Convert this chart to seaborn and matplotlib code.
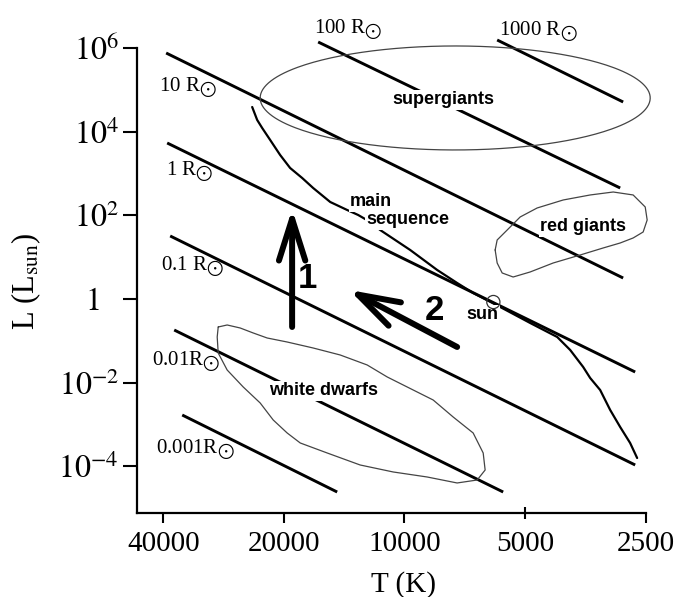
import numpy as np
import pandas as pd
import matplotlib
matplotlib.use("Agg")
import matplotlib.pyplot as plt
import seaborn as sns

# ---------------- data ----------------
# lines of constant radius: end points (T in K, log10 L in L_sun)
radius_names = ["1000 R", "100 R", "10 R", "1 R", "0.1 R", "0.01R", "0.001R"]
radius_T0 = [5870, 16420, 39330, 39100, 38430, 37550, 35860]
radius_T1 = [2846, 2895, 2846, 2656, 2656, 5671, 14720]
radius_logL0 = [6.194, 6.146, 5.883, 3.732, 1.509, -0.739, -2.771]
radius_logL1 = [4.712, 2.656, 0.504, -1.743, -3.966, -4.612, -4.612]
radius_label_T = [4638, 13820, 34650, 34250, 33870, 35050, 33290]
radius_label_logL = [6.385, 6.433, 5.047, 3.039, 0.767, -1.504, -3.607]

# main sequence curve
ms_T = [23990, 23310, 22650, 21630, 20430, 19290, 18000, 16900, 15320, 13900,
        13050, 12170, 11500, 9676, 8287, 7388, 6738, 5769, 4857, 4157,
        3858, 3581, 3440, 3248, 3066, 2895, 2734, 2626]
ms_logL = [4.592, 4.282, 4.090, 3.803, 3.445, 3.134, 2.895, 2.656, 2.321, 2.130,
           2.011, 1.843, 1.652, 1.174, 0.696, 0.385, 0.146, -0.189, -0.571, -0.906,
           -1.217, -1.623, -1.886, -2.173, -2.651, -3.058, -3.440, -3.799]

# red giants region outline
rg_T = [5938, 5870, 5541, 5143, 4665, 4017, 3440, 3013, 2687, 2507, 2479,
        2537, 2687, 2895, 3192, 3643, 4254, 4857, 5355, 5703, 5870, 5938]
rg_logL = [1.174, 1.413, 1.652, 1.963, 2.178, 2.369, 2.489, 2.560, 2.489, 2.202, 1.891,
           1.604, 1.461, 1.341, 1.222, 1.054, 0.863, 0.648, 0.528, 0.624, 0.863, 1.174]

# white dwarfs region outline
wd_T = [29160, 27700, 25700, 23850, 22010, 19620, 16900, 14470, 12390, 11040,
        9511, 8480, 7558, 6738, 6361, 6290, 6584, 7388, 8777, 10670,
        12900, 15590, 18200, 19620, 21260, 22910, 25260, 27700, 29160, 29330, 29160]
wd_logL = [-0.667, -0.619, -0.691, -0.810, -0.930, -1.026, -1.169, -1.336, -1.575, -1.862,
           -2.173, -2.412, -2.819, -3.201, -3.679, -4.086, -4.325, -4.396, -4.253, -4.133,
           -3.966, -3.679, -3.440, -3.201, -2.890, -2.484, -2.101, -1.695, -1.289, -0.906, -0.667]

# supergiants ellipse: centre and semi-axes (in log10 T, log10 L)
sg_center_logT, sg_center_logL = 3.8734, 4.808
sg_semi_logT, sg_semi_logL = 0.4867, 1.243

# sun
sun_T, sun_L = 6000, 0.85

# region labels
region_text = ["supergiants", "red giants", "white dwarfs", "sun"]
region_T = [8008, 3581, 15950, 6397]
region_logL = [4.760, 1.724, -2.197, -0.380]
ms_label_text = ["main", "sequence"]
ms_label_T = [13660, 12460]
ms_label_logL = [2.321, 1.891]

# evolution arrows: tail -> tip
arrow_names = ["1", "2"]
arrow_tail_T = [19070, 7388]
arrow_tail_logL = [-0.667, -1.145]
arrow_tip_T = [19070, 13740]
arrow_tip_logL = [2.154, 0.218]
arrow_label_T = [17490, 8431]
arrow_label_logL = [0.504, -0.261]

# ticks
xtick_values = [40000, 20000, 10000, 2500]
xtick_labels = ["40000", "20000", "10000", "2500"]
xtick_minor_values = [5000]
xtick_minor_labels = ["5000"]
ytick_values = [1e6, 1e4, 1e2, 1, 1e-2, 1e-4]
ytick_labels = [r"$10^{6}$", r"$10^{4}$", r"$10^{2}$", r"$1$", r"$10^{-2}$", r"$10^{-4}$"]

# ---------------- plotting ----------------
sns.set_theme(style="white")
plt.rcParams["font.family"] = ["Liberation Serif", "DejaVu Serif"]
plt.rcParams["mathtext.fontset"] = "stix"
for k in ["text.color", "axes.labelcolor", "xtick.color", "ytick.color", "axes.edgecolor"]:
    plt.rcParams[k] = "black"

W, H = 675, 597
fig = plt.figure(figsize=(W / 100, H / 100), dpi=100)
ax = fig.add_axes([137 / W, 1 - 513.3 / H, 508.7 / W, 513.3 / H])
ax.set_xscale("log")
ax.set_yscale("log")

# radius lines
for i in range(len(radius_names)):
    df = pd.DataFrame({"T": [radius_T0[i], radius_T1[i]],
                       "L": [10 ** radius_logL0[i], 10 ** radius_logL1[i]]})
    sns.lineplot(data=df, x="T", y="L", sort=False, estimator=None, color="black",
                 lw=2.1, ax=ax, solid_capstyle="butt")
    ax.text(radius_label_T[i], 10 ** radius_label_logL[i], radius_names[i] + r"$_{\bigodot}$",
            fontsize=15, ha="center", va="center", family=["Liberation Serif"])

# main sequence
sns.lineplot(x=ms_T, y=10 ** np.array(ms_logL), sort=False, estimator=None,
             color="black", lw=1.6, ax=ax)

# regions
sns.lineplot(x=rg_T, y=10 ** np.array(rg_logL), sort=False, estimator=None,
             color="#444444", lw=0.9, ax=ax, clip_on=False)
sns.lineplot(x=wd_T, y=10 ** np.array(wd_logL), sort=False, estimator=None,
             color="#444444", lw=0.9, ax=ax)
t = np.linspace(0, 2 * np.pi, 300)
sg_T = 10 ** (sg_center_logT + sg_semi_logT * np.cos(t))
sg_L = 10 ** (sg_center_logL + sg_semi_logL * np.sin(t))
sns.lineplot(x=sg_T, y=sg_L, sort=False, estimator=None, color="#444444", lw=0.9,
             ax=ax, clip_on=False)

# sun
sns.scatterplot(x=[sun_T], y=[sun_L], s=90, ax=ax, zorder=4)
sc = ax.collections[-1]
sc.set_facecolor("none")
sc.set_edgecolor("#333333")
sc.set_linewidth(0.9)

bold = dict(family=["Liberation Sans"], fontweight="bold")
box = dict(facecolor="white", edgecolor="none", pad=1.0)
for txt, tt, ll in zip(region_text, region_T, region_logL):
    ax.text(tt, 10 ** ll, txt, fontsize=13, ha="center", va="center", bbox=box, **bold)
for txt, tt, ll in zip(ms_label_text, ms_label_T, ms_label_logL):
    ax.text(tt, 10 ** ll, txt, fontsize=13, ha="left", va="center", bbox=box, **bold)

# arrows
for i in range(len(arrow_names)):
    ax.annotate("", xy=(arrow_tip_T[i], 10 ** arrow_tip_logL[i]),
                xytext=(arrow_tail_T[i], 10 ** arrow_tail_logL[i]),
                arrowprops=dict(arrowstyle="->,head_length=3.0,head_width=0.95",
                                mutation_scale=10, lw=4.3, color="black",
                                shrinkA=0, shrinkB=0))
    ax.text(arrow_label_T[i], 10 ** arrow_label_logL[i], arrow_names[i], fontsize=25,
            ha="center", va="center", **bold)

# axes limits, ticks, spines
ax.set_xlim(10 ** (np.log10(2500) + 508.7 / 400.7), 2500)
ax.set_ylim(10 ** -5.121, 10 ** 7.15)
ax.set_xticks(xtick_values)
ax.set_xticklabels(xtick_labels)
ax.set_xticks(xtick_minor_values, minor=True)
ax.set_xticklabels(xtick_minor_labels, minor=True)
ax.set_yticks(ytick_values)
ax.set_yticklabels(ytick_labels)
ax.yaxis.set_minor_locator(matplotlib.ticker.NullLocator())
ax.tick_params(axis="x", which="major", direction="out", length=7.5, width=1.5,
               labelsize=21, pad=5, bottom=True)
ax.tick_params(axis="x", which="minor", direction="inout", length=8, width=1.5,
               labelsize=21, pad=8.5, bottom=True)
ax.tick_params(axis="y", direction="out", length=10, width=1.5, labelsize=23, pad=3, left=True)
ax.yaxis.get_major_ticks()[3].set_pad(17)
for s in ["top", "right"]:
    ax.spines[s].set_visible(False)
for s in ["left", "bottom"]:
    ax.spines[s].set_linewidth(1.6)
    ax.spines[s].set_color("black")
ax.spines["left"].set_bounds(10 ** -5.121, 1e6)
ax.grid(False)

ax.set_xlabel("T (K)", fontsize=21)
ax.xaxis.set_label_coords((403 - 137) / 508.7, (513.3 - 571) / 513.3)
ax.set_ylabel(r"L (L$_{\rm sun}$)", fontsize=22)
ax.yaxis.set_label_coords((43 - 137) / 508.7, (513.3 - 281) / 513.3)

fig.savefig("out.png", dpi=100, facecolor="white")
